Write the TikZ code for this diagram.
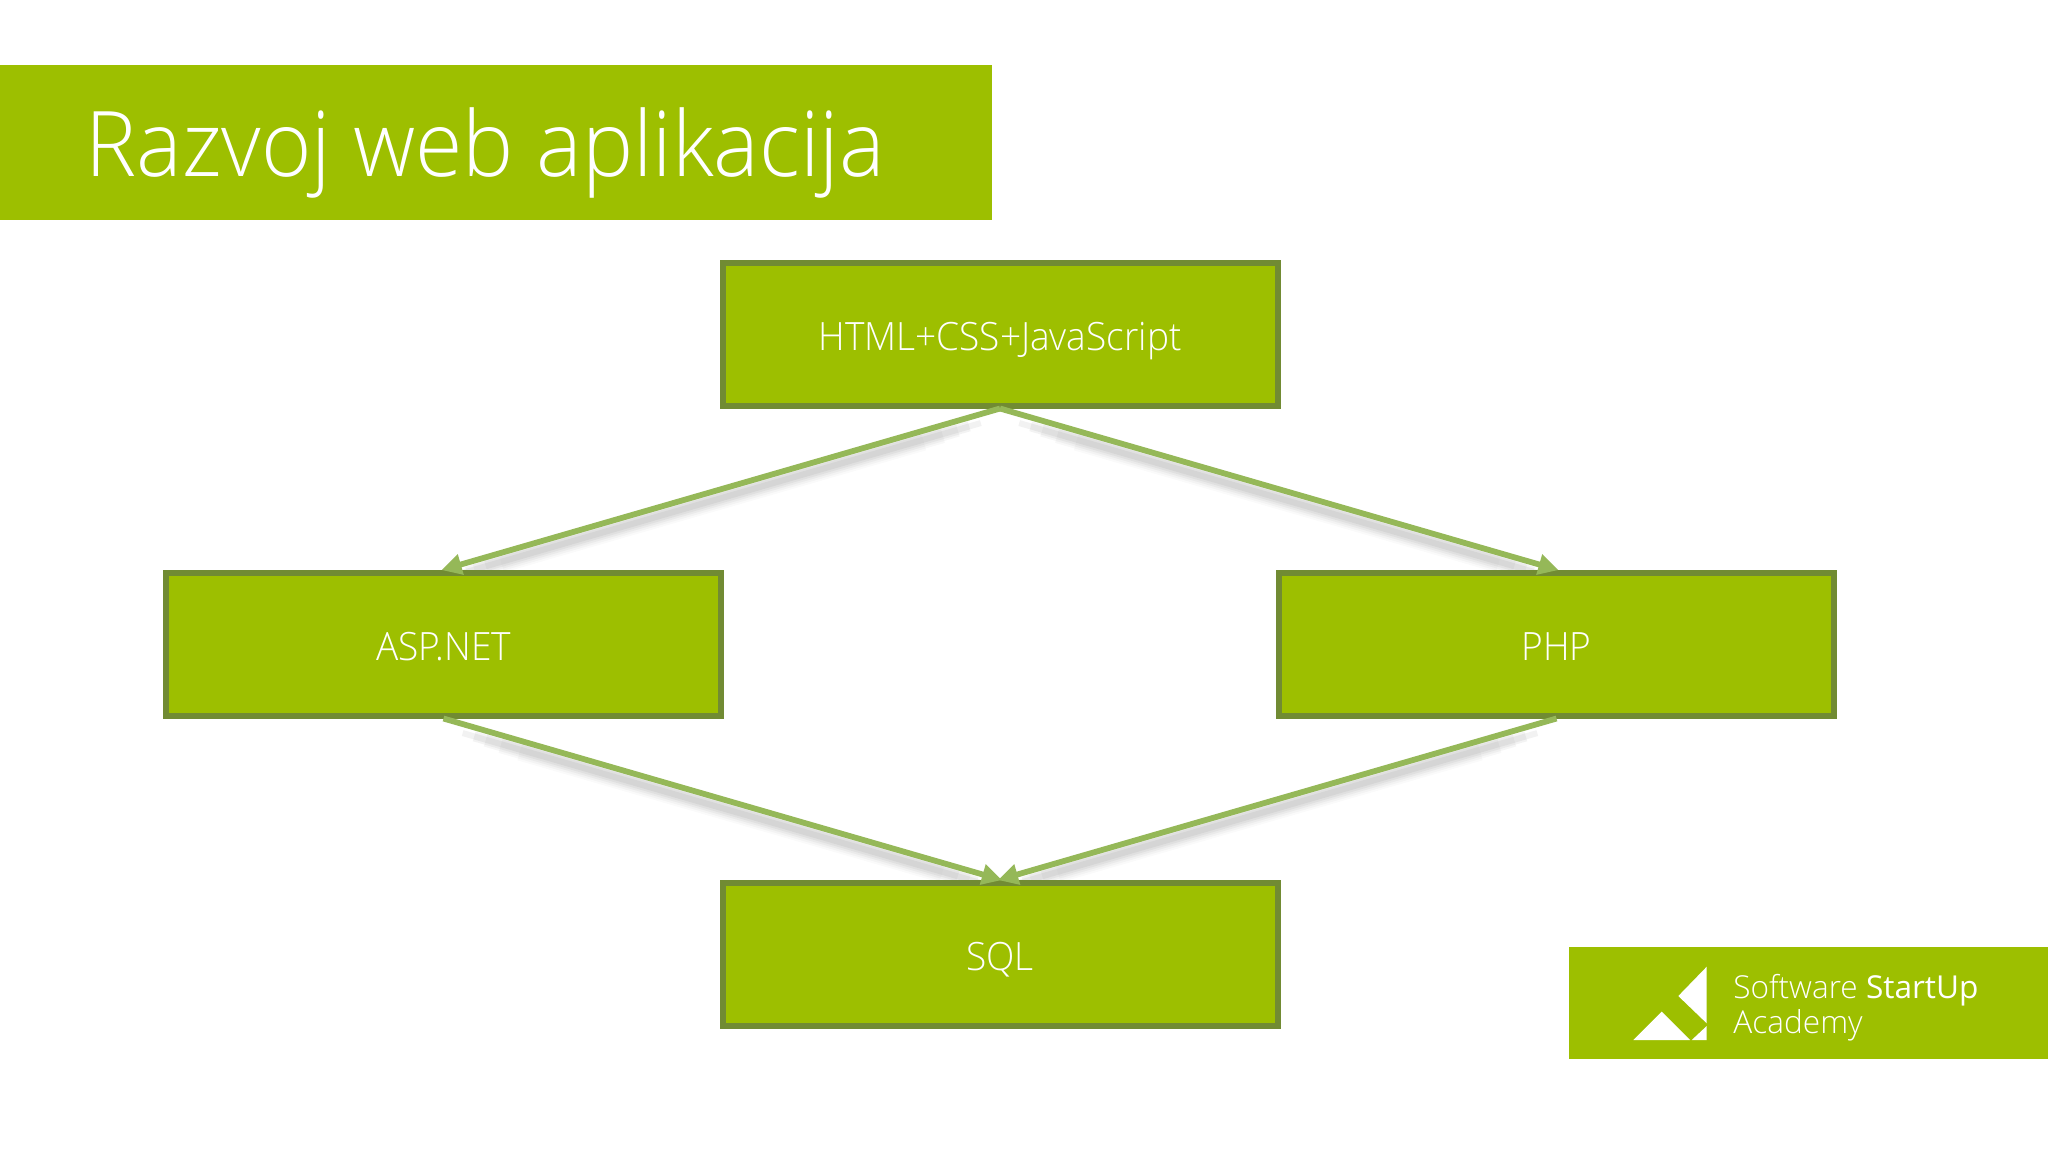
\documentclass[tikz,border=0pt]{standalone}
\usepackage{fontspec}
\setmainfont{Open Sans Light}[BoldFont={Open Sans}]
\newfontfamily\narrowlight{Open Sans Light}[FakeStretch=0.95]
\usetikzlibrary{arrows.meta,backgrounds}
\definecolor{lime}{HTML}{9DBF00}
\definecolor{edgegreen}{HTML}{718B33}
\definecolor{linkgreen}{HTML}{95B858}
\tikzset{
  px/.style={x=0.5pt,y=-0.5pt},
  flowbox/.style={rectangle,draw=edgegreen,line width=3pt,fill=lime,text=white,minimum width=277.5pt,minimum height=71.5pt,inner sep=0pt,text height=16pt,text depth=0pt,font=\narrowlight\fontsize{19.5}{22}\selectfont},
  link/.style={draw=linkgreen,line width=2.9pt,-{Triangle[length=10pt,width=10pt]},shorten >=-1pt},
  glow/.style={draw=black!85,line cap=butt},
  banner/.style={fill=lime,draw=none},
  logomark/.style={fill=white,draw=none}
}
\newcommand{\linkwithshadow}[2]{%
  \begin{scope}[on background layer]
    \foreach \wd/\op/\sa/\sb in {11pt/.02/40pt/30pt,9pt/.03/30pt/22pt,7pt/.04/22pt/16pt,5pt/.05/16pt/12pt,3pt/.06/10pt/8pt}{
      \draw[glow,line width=\wd,opacity=\op,shorten >=\sb,shorten <=\sa,transform canvas={yshift=-4.5pt}] (#1) -- (#2);
    }
  \end{scope}
  \draw[link] (#1) -- (#2);
}
\begin{document}
\begin{tikzpicture}[px]
\useasboundingbox (0,0) rectangle (2048,1152);
\begin{scope}[on background layer]
  \fill[white] (0,0) rectangle (2048,1152);
\end{scope}
\fill[banner] (0,65) rectangle (992,219.5);
\node[anchor=base west,text=white,inner sep=0pt,font=\narrowlight\fontsize{45.3}{50}\selectfont] (title) at (85,176) {Razvoj web aplikacija};
\node[flowbox] (html) at (1000,334) {HTML+CSS+JavaScript};
\node[flowbox] (asp) at (443.5,644) {ASP.NET};
\node[flowbox] (php) at (1556.5,644) {PHP};
\node[flowbox] (sql) at (1000,954) {SQL};
\linkwithshadow{html.south}{asp.north}
\linkwithshadow{html.south}{php.north}
\linkwithshadow{asp.south}{sql.north}
\linkwithshadow{php.south}{sql.north}
\fill[banner] (1569,947) rectangle (2048,1059);
\fill[logomark] (1706.7,966.7) -- (1678.3,996) -- (1706.7,1023.3) -- cycle;
\fill[logomark] (1633.3,1040) -- (1661.7,1011.7) -- (1690,1040) -- cycle;
\fill[logomark] (1706.7,1026) -- (1706.7,1040) -- (1691.7,1040) -- cycle;
\node[anchor=base west,text=white,inner sep=0pt,font=\fontsize{15.8}{18}\selectfont] (logoa) at (1733,998) {Software \textbf{StartUp}};
\node[anchor=base west,text=white,inner sep=0pt,font=\fontsize{15.8}{18}\selectfont] (logob) at (1733,1033) {Academy};
\end{tikzpicture}
\end{document}
